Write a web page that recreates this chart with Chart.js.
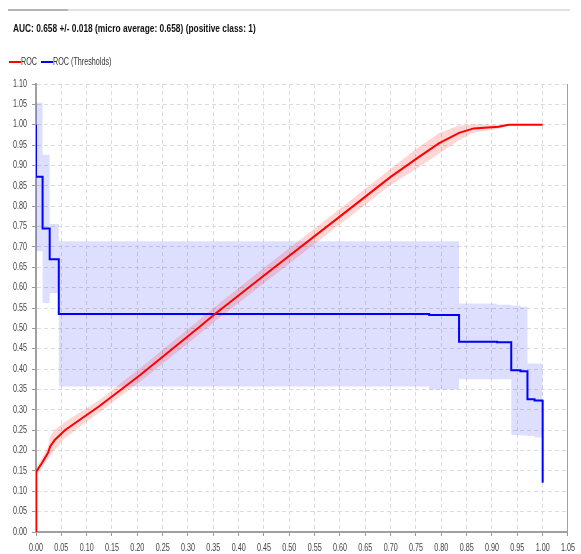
<!DOCTYPE html>
<html>
<head>
<meta charset="utf-8">
<script src="https://cdn.jsdelivr.net/npm/chart.js@4.4.1/dist/chart.umd.min.js"></script>
<style>
  body { margin: 0; background: #fff; }
  #wrap { position: relative; width: 581px; height: 554px; font-family: "Liberation Sans", Arial, sans-serif; }
  #tabline { position: absolute; left: 8px; top: 9px; width: 562px; height: 2px; background: #e2e2e2; }
  #tabline span { display: block; width: 60px; height: 2px; background: #b4b4b4; }
  #title { position: absolute; left: 13px; top: 22px; font-size: 11px; font-weight: bold; color: #111;
           white-space: nowrap; transform: scaleX(0.76); transform-origin: 0 0; }
  #legend { position: absolute; left: 8px; top: 56px; height: 14px; }
  #legend .sw { position: absolute; top: 5px; width: 12px; height: 2px; }
  #legend .txt { position: absolute; top: 0; font-size: 10px; color: #333; white-space: nowrap;
                 transform: scaleX(0.72); transform-origin: 0 0; }
  #box { position: absolute; left: 0; top: 0; width: 581px; height: 554px; }
</style>
</head>
<body>
<div id="wrap">
  <div id="box"><canvas id="rocChart"></canvas></div>
  <div id="tabline"><span></span></div>
  <div id="title">AUC: 0.658 +/- 0.018 (micro average: 0.658) (positive class: 1)</div>
  <div id="legend"></div>
</div>
<script>
// ROC curve (mean) and its +/- band
var rocX    = [0, 0, 0.001, 0.012, 0.024, 0.028, 0.037, 0.057, 0.126, 0.205, 0.323, 0.352, 0.45, 0.595, 0.70, 0.756, 0.795, 0.835, 0.864, 0.913, 0.933, 1.0];
var rocY    = [0, 0.145, 0.148, 0.17, 0.195, 0.21, 0.226, 0.25, 0.31, 0.385, 0.504, 0.534, 0.63, 0.77, 0.872, 0.921, 0.954, 0.98, 0.991, 0.995, 1.0, 1.0];
var rocLow  = [0, 0.14, 0.14, 0.158, 0.18, 0.187, 0.202, 0.23, 0.295, 0.368, 0.486, 0.516, 0.611, 0.751, 0.852, 0.896, 0.929, 0.962, 0.981, 0.99, 0.998, 1.0];
var rocHigh = [0, 0.15, 0.156, 0.182, 0.21, 0.235, 0.251, 0.27, 0.325, 0.402, 0.522, 0.552, 0.649, 0.789, 0.892, 0.946, 0.979, 0.998, 1.001, 1.0, 1.002, 1.0];

// ROC (Thresholds) step curve and its band; each level starts at its x
var thrX    = [0, 0, 0.013, 0.027, 0.045, 0.776, 0.835, 0.91, 0.938, 0.956, 0.97, 0.984, 0.998, 1.0];
var thrY    = [1.0, 0.872, 0.745, 0.67, 0.535, 0.533, 0.467, 0.466, 0.397, 0.395, 0.326, 0.323, 0.322, 0.121];
var thrLow  = [1.0, 0.69, 0.562, 0.587, 0.357, 0.35, 0.375, 0.375, 0.238, 0.237, 0.236, 0.232, 0.232, 0.121];
var thrHigh = [1.0, 1.054, 0.926, 0.756, 0.714, 0.714, 0.561, 0.558, 0.556, 0.553, 0.414, 0.414, 0.412, 0.121];

var seriesNames  = ['ROC', 'ROC (Thresholds)'];
var seriesColors = ['#ff0000', '#0000ff'];

var xTicks = { min: 0, max: 1.05, step: 0.05 };
var yTicks = { min: 0, max: 1.10, step: 0.05 };

function pts(xs, ys) {
    return xs.map(function (x, i) { return { x: x, y: ys[i] }; });
}

// legend (html, same look as the original)
var legend = document.getElementById('legend');
var lx = 0;
seriesNames.forEach(function (name, i) {
    var sw = document.createElement('div');
    sw.className = 'sw';
    sw.style.left = (lx + 1) + 'px';
    sw.style.background = seriesColors[i];
    legend.appendChild(sw);
    var t = document.createElement('div');
    t.className = 'txt';
    t.style.left = (lx + 13) + 'px';
    t.textContent = name;
    legend.appendChild(t);
    lx += 32;
});

// the original uses a condensed font: squeeze canvas text horizontally
var squeeze = 0.72;
var canvas = document.getElementById('rocChart');
var ctx = canvas.getContext('2d');
ctx.fillText = function (text, x, y) {
    this.save();
    this.translate(x, y);
    this.scale(squeeze, 1);
    CanvasRenderingContext2D.prototype.fillText.call(this, text, 0, 0);
    this.restore();
};
ctx.measureText = function (text) {
    var m = CanvasRenderingContext2D.prototype.measureText.call(this, text);
    return {
        width: m.width * squeeze,
        actualBoundingBoxAscent: m.actualBoundingBoxAscent,
        actualBoundingBoxDescent: m.actualBoundingBoxDescent
    };
};

var labelFont = { family: '"Liberation Sans", Arial, sans-serif', size: 10 };
var gridOpts = { color: '#dcdcdc', tickColor: '#999', tickLength: 4, tickBorderDash: [] };
var borderOpts = { color: '#a0a0a0', width: 2, dash: [4, 3] };

var rocChart = new Chart(ctx, {
    type: 'line',
    data: {
        datasets: [
            {
                label: seriesNames[0],
                data: pts(rocX, rocY),
                borderColor: seriesColors[0],
                borderWidth: 2,
                pointRadius: 0,
                fill: false,
                order: 0
            },
            {
                label: seriesNames[1],
                data: pts(thrX, thrY),
                borderColor: seriesColors[1],
                borderWidth: 2,
                pointRadius: 0,
                stepped: 'before',
                fill: false,
                order: 1
            },
            {
                label: 'roc_high',
                data: pts(rocX, rocHigh),
                borderWidth: 0,
                pointRadius: 0,
                fill: '+1',
                backgroundColor: 'rgba(255, 0, 0, 0.16)',
                order: 2
            },
            {
                label: 'roc_low',
                data: pts(rocX, rocLow),
                borderWidth: 0,
                pointRadius: 0,
                fill: false,
                order: 3
            },
            {
                label: 'thr_high',
                data: pts(thrX, thrHigh),
                borderWidth: 0,
                pointRadius: 0,
                stepped: 'before',
                fill: '+1',
                backgroundColor: 'rgba(0, 0, 255, 0.13)',
                order: 4
            },
            {
                label: 'thr_low',
                data: pts(thrX, thrLow),
                borderWidth: 0,
                pointRadius: 0,
                stepped: 'before',
                fill: false,
                order: 5
            }
        ]
    },
    options: {
        responsive: true,
        maintainAspectRatio: false,
        animation: false,
        layout: { padding: { top: 84, left: 0, right: 11, bottom: 0 } },
        plugins: {
            title: { display: false },
            legend: { display: false },
            tooltip: { enabled: false }
        },
        scales: {
            x: {
                type: 'linear',
                min: xTicks.min,
                max: xTicks.max,
                afterFit: function (scale) { scale.height = 22; },
                ticks: {
                    stepSize: xTicks.step,
                    autoSkip: false,
                    maxRotation: 0,
                    color: '#444',
                    font: labelFont,
                    padding: 6,
                    callback: function (v) { return v.toFixed(2); }
                },
                grid: gridOpts,
                border: borderOpts
            },
            y: {
                min: yTicks.min,
                max: yTicks.max,
                afterFit: function (scale) { scale.width = 36; },
                ticks: {
                    stepSize: yTicks.step,
                    autoSkip: false,
                    color: '#444',
                    font: labelFont,
                    padding: 5,
                    callback: function (v) { return v.toFixed(2); }
                },
                grid: gridOpts,
                border: borderOpts
            },
            y2: {
                position: 'right',
                min: yTicks.min,
                max: yTicks.max,
                ticks: { display: false },
                grid: { drawOnChartArea: false, drawTicks: false },
                border: { color: '#a0a0a0', width: 1 }
            }
        }
    }
});
</script>
</body>
</html>
